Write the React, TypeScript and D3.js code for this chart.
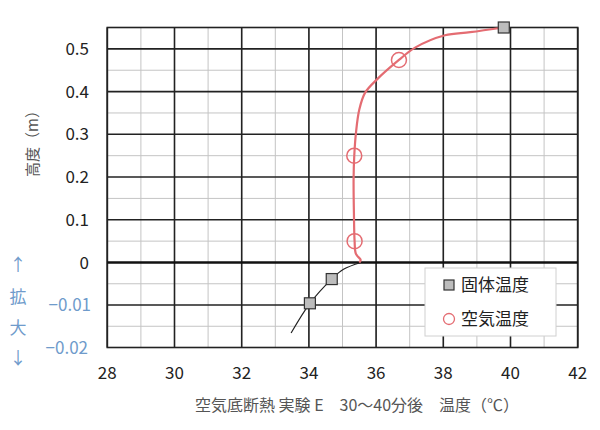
import * as d3 from "d3";

// 温度 (℃) と 高度 (m)
const xTicks = [28, 30, 32, 34, 36, 38, 40, 42];
const yTicksUpper = [0.1, 0.2, 0.3, 0.4, 0.5];
const yTicksLower = [-0.01, -0.02];

const solidTemp = [34.03, 34.68, 39.8];
const solidHeight = [-0.0096, -0.0039, 0.55];

const airMarkTemp = [35.36, 35.35, 36.68];
const airMarkHeight = [0.05, 0.25, 0.474];

const airLineTemp = [35.5, 35.54, 35.4, 35.36, 35.34, 35.33, 35.35, 35.4, 35.5, 35.67, 36.02, 36.68, 37.16, 38.05, 38.8, 39.8];
const airLineHeight = [0, 0.006, 0.02, 0.05, 0.116, 0.194, 0.25, 0.303, 0.358, 0.397, 0.428, 0.474, 0.503, 0.532, 0.539, 0.55];

const solidLineTemp = [33.47, 34.03, 34.68, 35.03, 35.55];
const solidLineHeight = [-0.0166, -0.0096, -0.0039, -0.0016, 0];

const FONT = "'Noto Sans CJK JP', 'Noto Sans', sans-serif";
const BLUE = "#6f9bcb";
const RED = "#e46c72";

export default function App() {
  const x = d3.scaleLinear().domain([28, 42]).range([107.3, 577.7]);
  // 0 以下は 10 倍に拡大
  const y = d3.scaleLinear().domain([-0.02, 0, 0.55]).range([347.5, 262.5, 27.5]);

  const xMinor = d3.range(28, 43, 1);
  const yMinor = [...d3.range(-0.015, 0, 0.01), ...d3.range(0.05, 0.55, 0.1)];
  const yMajor = [-0.01, ...yTicksUpper];

  const line = d3
    .line<[number, number]>()
    .x((d) => x(d[0]))
    .y((d) => y(d[1]))
    .curve(d3.curveCatmullRom.alpha(0.5));

  const airPts = airLineTemp.map((t, i) => [t, airLineHeight[i]] as [number, number]);
  const solidPts = solidLineTemp.map((t, i) => [t, solidLineHeight[i]] as [number, number]);

  const [x0, x1] = x.range();
  const top = y(0.55);
  const bottom = y(-0.02);

  return (
    <svg
      width={600}
      height={430}
      style={{ position: "absolute", left: 0, top: 0, background: "#fff" }}
      fontFamily={FONT}
    >
      {/* minor grid */}
      {xMinor.map((v) => (
        <line key={"xm" + v} x1={x(v)} x2={x(v)} y1={top} y2={bottom} stroke="#c4c4c4" strokeWidth={1} />
      ))}
      {yMinor.map((v) => (
        <line key={"ym" + v} x1={x0} x2={x1} y1={y(v)} y2={y(v)} stroke="#c4c4c4" strokeWidth={1} />
      ))}
      {/* major grid */}
      {xTicks.map((v) => (
        <line key={"xM" + v} x1={x(v)} x2={x(v)} y1={top} y2={bottom} stroke="#222" strokeWidth={1.6} />
      ))}
      {yMajor.map((v) => (
        <line key={"yM" + v} x1={x0} x2={x1} y1={y(v)} y2={y(v)} stroke="#222" strokeWidth={1.6} />
      ))}
      <rect x={x0} y={top} width={x1 - x0} height={bottom - top} fill="none" stroke="#222" strokeWidth={1.6} />
      <line x1={x0} x2={x1} y1={y(0)} y2={y(0)} stroke="#111" strokeWidth={2.6} />

      {/* tick labels */}
      {xTicks.map((v) => (
        <text key={"xt" + v} x={x(v)} y={379} textAnchor="middle" fontSize={17} fill="#222">
          {v}
        </text>
      ))}
      {[0, ...yTicksUpper].map((v) => (
        <text key={"yt" + v} x={89} y={y(v) + 6} textAnchor="end" fontSize={17} fill="#222">
          {v}
        </text>
      ))}
      {yTicksLower.map((v) => (
        <text key={"yl" + v} x={91 - (v === -0.02 ? 3 : 0)} y={y(v) + 6} textAnchor="end" fontSize={17} fill={BLUE}>
          {"−" + Math.abs(v)}
        </text>
      ))}

      {/* 拡大 note */}
      {[
        ["↑", 265],
        ["拡", 297],
        ["大", 328],
        ["↓", 358],
      ].map(([s, yy]) => (
        <text key={s as string} x={18} y={(yy as number) + 6} textAnchor="middle" fontSize={17} fill={BLUE}>
          {s}
        </text>
      ))}

      {/* axis titles */}
      <text transform="translate(38,140) rotate(-90)" textAnchor="middle" fontSize={15} fill="#555">
        高度（m）
      </text>
      <text x={195} y={411} fontSize={16} fill="#555">
        空気底断熱 実験 E　30～40分後　温度（℃）
      </text>

      {/* series */}
      <path d={line(solidPts) ?? ""} fill="none" stroke="#222" strokeWidth={1.2} />
      <path d={line(airPts) ?? ""} fill="none" stroke={RED} strokeWidth={2.2} />
      {airMarkTemp.map((t, i) => (
        <circle key={"a" + i} cx={x(t)} cy={y(airMarkHeight[i])} r={7.5} fill="none" stroke={RED} strokeWidth={1.5} />
      ))}
      {solidTemp.map((t, i) => (
        <rect
          key={"s" + i}
          x={x(t) - 5.5}
          y={y(solidHeight[i]) - 5.5}
          width={11}
          height={11}
          fill="#bdbdbd"
          stroke="#333"
          strokeWidth={1.2}
        />
      ))}

      {/* legend */}
      <rect x={425} y={268} width={131} height={68} fill="#fff" stroke="#d0d0d0" strokeWidth={1} />
      <rect x={444} y={280} width={10} height={10} fill="#bdbdbd" stroke="#333" strokeWidth={1.2} />
      <text x={461} y={291} fontSize={17} fill="#222">
        固体温度
      </text>
      <circle cx={449} cy={319} r={5.5} fill="none" stroke={RED} strokeWidth={1.3} />
      <text x={461} y={325} fontSize={17} fill="#222">
        空気温度
      </text>
    </svg>
  );
}
